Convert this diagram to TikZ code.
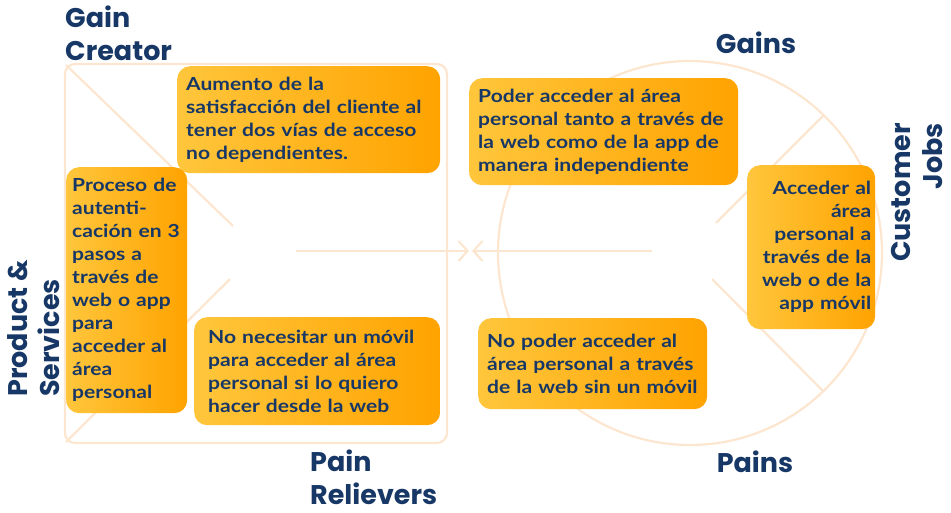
\documentclass[tikz,border=0pt]{standalone}
\usepackage{fontspec}
\setmainfont{Lato}[FakeStretch=1.17]
\newfontfamily\headfont{Poppins}
\usetikzlibrary{arrows.meta}
\definecolor{navy}{HTML}{173866}
\definecolor{peach}{HTML}{FDE6D0}
\definecolor{gold}{HTML}{FFC63C}
\definecolor{orangeR}{HTML}{FFA300}
\tikzset{
  frame/.style={draw=peach, line width=2.2pt},
  card/.style={rounded corners=13pt, left color=gold, right color=orangeR, draw=none,
    font=\bfseries\fontsize{18}{23}\selectfont, text=navy, inner ysep=0pt, anchor=north west},
  head/.style={font=\headfont\bfseries\fontsize{27}{32.5}\selectfont, text=navy, inner sep=0pt},
  chev/.style={-{Straight Barb[length=9pt, width=20pt, line width=2.2pt]}}
}
\begin{document}
\begin{tikzpicture}[x=1pt,y=-1pt]
\useasboundingbox (0,0) rectangle (951,512);
% value map frame
\draw[frame, rounded corners=10pt] (65,64) rectangle (447,443);
\coordinate (d1) at (233,226);
\coordinate (d2) at (230,279);
\coordinate (tl) at (66,65);
\coordinate (bl) at (66,442);
\draw[frame] (tl) -- (d1);
\draw[frame] (bl) -- (d2);
% circle
\node[frame, circle, minimum size=384pt, inner sep=0pt] (circ) at (690,253) {};
\coordinate (c1a) at (823,116);
\coordinate (c1b) at (716,223);
\coordinate (c2a) at (712,279);
\coordinate (c2b) at (823,391);
\draw[frame] (c1a) -- (c1b);
\draw[frame] (c2a) -- (c2b);
% arrows
\coordinate (as) at (296,251);
\coordinate (ae) at (469,251);
\coordinate (bs) at (652,251);
\coordinate (be) at (472,251);
\draw[frame, chev] (as) -- (ae);
\draw[frame, chev] (bs) -- (be);
% cards
\node[card, minimum width=263pt, minimum height=107pt, text width=245pt, inner xsep=9pt, align=left] (g1) at (177,66)
  {Aumento de la\\satisfacción del cliente al\\tener dos vías de acceso\\no dependientes.};
\node[card, minimum width=121pt, minimum height=246pt, text width=109pt, inner xsep=6pt, align=left] (p1) at (66,167)
  {Proceso de\\autenti-\\cación en 3\\pasos a\\través de\\web o app\\para\\acceder al\\área\\personal};
\node[card, minimum width=246pt, minimum height=108pt, text width=218pt, inner xsep=14pt, align=left] (r1) at (194,317)
  {No necesitar un móvil\\para acceder al área\\personal si lo quiero\\hacer desde la web};
\node[card, minimum width=269pt, minimum height=107pt, text width=251pt, inner xsep=9pt, align=left] (ga1) at (469,78)
  {Poder acceder al área\\personal tanto a través de\\la web como de la app de\\manera independiente};
\node[card, minimum width=128pt, minimum height=164pt, text width=120pt, inner xsep=4pt, align=right] (j1) at (747,165)
  {Acceder al\\área\\personal a\\través de la\\web o de la\\app móvil};
\node[card, minimum width=229pt, minimum height=91pt, text width=211pt, inner xsep=9pt, align=left] (pa1) at (478,318)
  {No poder acceder al\\área personal a través\\de la web sin un móvil};
% headings
\node[head, anchor=north west, align=left] (hgc) at (65,6) {Gain\\Creator};
\node[head, anchor=north] (hg) at (756,32) {Gains};
\node[head, anchor=north] (hp) at (755,451) {Pains};
\node[head, anchor=north west, align=left] (hpr) at (310,450) {Pain\\Relievers};
\node[head, anchor=north west, align=left, rotate=90] (hps) at (7,397) {Product \&\\Services};
\node[head, anchor=north east, align=right, rotate=90] (hcj) at (891,123) {Customer\\Jobs};
\end{tikzpicture}
\end{document}
